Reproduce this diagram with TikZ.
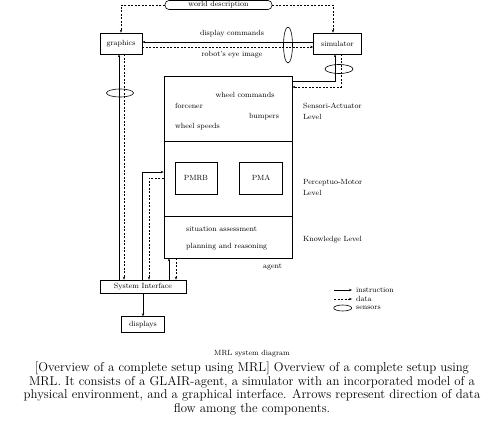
\documentclass[tikz,border=0pt]{standalone}
\usetikzlibrary{positioning,shapes.geometric,arrows.meta}

\begin{document}
\begin{tikzpicture}[x=1pt,y=1pt,
  >={Stealth[length=3pt,width=2.4pt]},
  every node/.style={font=\fontsize{7.5}{8.5}\selectfont, inner sep=0pt},
  box/.style={draw, line width=0.6pt, minimum height=21pt},
  instr/.style={->, line width=0.6pt},
  dat/.style={->, line width=0.6pt, dash pattern=on 2pt off 1.5pt},
  sensor/.style={draw, ellipse, line width=0.6pt}]
  \useasboundingbox (0,0) rectangle (504,-436);

  \node[box, minimum width=42pt] (graphics) at (121,-43.5) {graphics};
  \node[box, minimum width=48pt] (simulator) at (337.5,-43.5) {simulator};
  \node[draw, line width=0.6pt, rounded corners=4pt, minimum width=107pt, minimum height=9pt] (world) at (218.5,-5) {world description};
  \node[draw, line width=0.6pt, minimum width=128pt, minimum height=182pt] (agent) at (228,-167) {};
  \draw[line width=0.6pt] ([yshift=26]agent.west) -- ([yshift=26]agent.east);
  \draw[line width=0.6pt] ([yshift=-49]agent.west) -- ([yshift=-49]agent.east);
  \node[box, minimum width=42pt, minimum height=32pt] (pmrb) at (196,-178) {PMRB};
  \node[box, minimum width=43pt, minimum height=32pt, right=22pt of pmrb] (pma) {PMA};
  \node[draw, line width=0.6pt, minimum width=86pt, minimum height=13pt] (sysif) at (143,-286.5) {System Interface};
  \node[draw, line width=0.6pt, minimum width=43pt, minimum height=16pt, below=23pt of sysif] (displays) {displays};

  % graphics / simulator
  \draw[dat] (world.west) -| (graphics.north);
  \draw[dat] (world.east) -| ([xshift=-4.5]simulator.north);
  \draw[instr] ([yshift=1.5]simulator.west) -- ([yshift=1.5]simulator.west -| graphics.east);
  \draw[dat] ([yshift=-3.5]graphics.east) -- ([yshift=-3.5]graphics.east -| simulator.west);
  \node (dispcmd) at (232,-34) {display commands};
  \node (eyeimg) at (232,-55) {robot's eye image};
  \node[sensor, minimum width=9pt, minimum height=36pt] (sens1) at (288,-45) {};

  % simulator / agent
  \draw[instr] ([yshift=86]agent.east) -| ([xshift=-2.5]simulator.south);
  \draw[dat] ([xshift=3.5]simulator.south) |- ([yshift=80]agent.east);
  \node[sensor, minimum width=28pt, minimum height=9pt] (sens2) at (339,-69) {};

  % system interface
  \draw[instr] ([xshift=-2]graphics.south |- sysif.north) -- ([xshift=-2]graphics.south);
  \draw[dat] ([xshift=3]graphics.south) -- ([xshift=3]graphics.south |- sysif.north);
  \node[sensor, minimum width=27pt, minimum height=8pt] (sens3) at (120,-93) {};
  \draw[instr] ([xshift=-1]sysif.north) |- ([yshift=-5]agent.west);
  \draw[dat] ([yshift=-11]agent.west) -| ([xshift=6]sysif.north);
  \draw[instr] ([xshift=26]sysif.north) -- ([xshift=26]sysif.north |- agent.south);
  \draw[dat] ([xshift=33]sysif.north |- agent.south) -- ([xshift=33]sysif.north);
  \draw[instr] (sysif.south) -- (sysif.south |- displays.north);

  % agent contents
  \node (whcmd) at (245,-95) {wheel commands};
  \node[anchor=west] (force) at (175,-106) {forcener};
  \node (bump) at (264,-117) {bumpers};
  \node[anchor=west] (whspd) at (175,-127) {wheel speeds};
  \node[anchor=west] (situ) at (186,-229) {situation assessment};
  \node[anchor=west] (plan) at (186,-247) {planning and reasoning};
  \node[anchor=west] (agentlbl) at (263,-267) {agent};

  % levels
  \node[anchor=west, align=left] (salevel) at (303,-111.5) {Sensori-Actuator\\[2.5pt]Level};
  \node[anchor=west, align=left] (pmlevel) at (303,-187) {Perceptuo-Motor\\[2.5pt]Level};
  \node[anchor=west] (kllevel) at (303,-240) {Knowledge Level};

  % legend
  \node[anchor=west] (leginstr) at (356,-290) {instruction};
  \node[anchor=west] (legdata) at (356,-299) {data};
  \node[anchor=west] (legsens) at (356,-308) {sensors};
  \draw[instr] ([xshift=-22]leginstr.west) -- ([xshift=-4]leginstr.west);
  \draw[dat] ([xshift=-22]legdata.west) -- ([xshift=-4]legdata.west);
  \node[sensor, minimum width=18pt, minimum height=6pt, left=4pt of legsens] (legell) {};

  % captions
  \node (title) at (252,-354) {MRL system diagram};
  \node[font=\fontsize{12.8}{13.4}\selectfont, align=center] (caption) at (252,-388.5)
    {[Overview of a complete setup using MRL] Overview of a complete setup using\\
     MRL. It consists of a GLAIR-agent, a simulator with an incorporated model of a\\
     physical environment, and a graphical interface. Arrows represent direction of data\\
     flow among the components.};
\end{tikzpicture}
\end{document}
